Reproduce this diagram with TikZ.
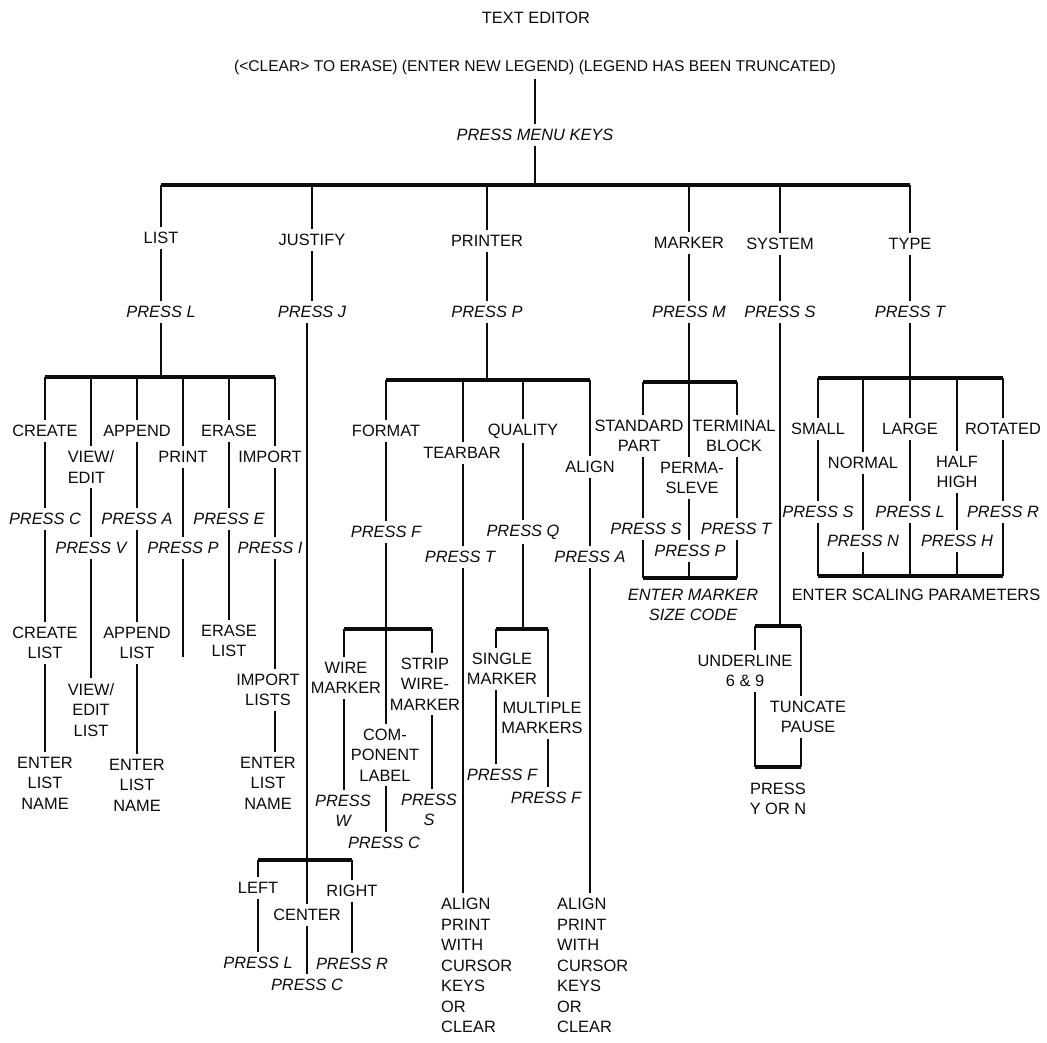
\documentclass[tikz,border=0pt]{standalone}
\usepackage{fontspec}
\setmainfont{Liberation Sans}
\usepackage{tikz}
\definecolor{ink}{RGB}{12,12,12}
\newcommand\dfont{\fontsize{16.4}{20.5}\selectfont}

\begin{document}
\begin{tikzpicture}[x=1pt,y=-1pt,font=\dfont,
 t/.style={text=ink,align=center,inner xsep=2pt,inner ysep=5pt},
 k/.style={t,font=\dfont\itshape},
 blk/.style={t,align=left,anchor=north west},
 ln/.style={draw=ink,line width=1.5pt},
 bar/.style={draw=ink,line width=3.2pt}]
 \path[use as bounding box,fill=white] (0,0) rectangle (1047,1042);
 \node[t](title) at (536,18){TEXT EDITOR};
 \node[t,font=\fontsize{15.6}{20}\selectfont](legend) at (535,67){(<CLEAR> TO ERASE) (ENTER NEW LEGEND) (LEGEND HAS BEEN TRUNCATED)};
 \node[k](menu) at (535,135){PRESS MENU KEYS};
 \coordinate(top) at (535,185);
 \draw[ln](legend)--(menu)--(top);
 \coordinate(bL) at (161,185);
 \coordinate(bJ) at (312,185);
 \coordinate(bP) at (487,185);
 \coordinate(bM) at (689,185);
 \coordinate(bS) at (780,185);
 \coordinate(bT) at (910,185);
 \draw[bar](bL)--(bT);
 \node[t](list) at (161,238){LIST};
 \node[k](pL) at (161,312){PRESS L};
 \node[t](just) at (312,240){JUSTIFY};
 \node[k](pJ) at (312,312){PRESS J};
 \node[t](prn) at (487,241){PRINTER};
 \node[k](pP) at (487,312){PRESS P};
 \node[t](mrk) at (689,243){MARKER};
 \node[k](pM) at (689,312){PRESS M};
 \node[t](sys) at (780,244){SYSTEM};
 \node[k](pS) at (780,312){PRESS S};
 \node[t](typ) at (910,244){TYPE};
 \node[k](pT) at (910,312){PRESS T};
 % list
 \coordinate(lc) at (161,377);
 \coordinate(l1) at (45,377);
 \coordinate(l2) at (91,377);
 \coordinate(l3) at (137,377);
 \coordinate(l4) at (183,377);
 \coordinate(l5) at (229,377);
 \coordinate(l6) at (275,377);
 \draw[ln](bL)--(list)--(pL)--(lc);
 \draw[bar](l1)--(l6);
 \node[t](create) at (45,431){CREATE};
 \node[k](pC) at (45,519){PRESS C};
 \node[t](createl) at (45,643){CREATE\\LIST};
 \node[t](name1) at (45,783){ENTER\\LIST\\NAME};
 \node[t,align=left](view) at (91,467){VIEW/\\EDIT};
 \node[k](pV) at (91,548){PRESS V};
 \node[t](viewl) at (91,710){VIEW/\\EDIT\\LIST};
 \node[t](append) at (137,431){APPEND};
 \node[k](pA) at (137,519){PRESS A};
 \node[t](appendl) at (137,643){APPEND\\LIST};
 \node[t](name2) at (137,785){ENTER\\LIST\\NAME};
 \node[t](print) at (183,457){PRINT};
 \node[k](pPr) at (183,548){PRESS P};
 \coordinate(printend) at (183,657);
 \node[t](erase) at (229,431){ERASE};
 \node[k](pE) at (229,519){PRESS E};
 \node[t](erasel) at (229,641){ERASE\\LIST};
 \node[t](import) at (270,457){IMPORT};
 \node[k](pI) at (270,548){PRESS I};
 \node[t](importl) at (268,690){IMPORT\\LISTS};
 \node[t](name3) at (268,783){ENTER\\LIST\\NAME};
 \draw[ln](l1)--(create)--(pC)--(createl)--(name1);
 \draw[ln](l2)--(view)--(pV)--(viewl);
 \draw[ln](l3)--(append)--(pA)--(appendl)--(name2);
 \draw[ln](l4)--(print)--(pPr)--(printend);
 \draw[ln](l5)--(erase)--(pE)--(erasel);
 \draw[ln](l6)--(import.north-|l6) (import.south-|l6)--(pI.north-|l6) (pI.south-|l6)--(importl.north-|l6) (importl.south-|l6)--(name3.north-|l6);
 % justify
 \coordinate(jc) at (307,860);
 \coordinate(j1) at (258,860);
 \coordinate(j3) at (352,860);
 \draw[ln](bJ)--(just)--(pJ) (pJ.south-|jc)--(jc);
 \draw[bar](j1)--(j3);
 \node[t](left) at (258,888){LEFT};
 \node[k](pLe) at (258,963){PRESS L};
 \node[t](center) at (307,915){CENTER};
 \node[k](pCe) at (307,985){PRESS C};
 \node[t](right) at (352,891){RIGHT};
 \node[k](pRi) at (352,964){PRESS R};
 \draw[ln](j1)--(left)--(pLe);
 \draw[ln](jc)--(center)--(pCe);
 \draw[ln](j3)--(right)--(pRi);
 % printer
 \coordinate(pc) at (487,380);
 \coordinate(p1) at (386,380);
 \coordinate(p2) at (463,380);
 \coordinate(p3) at (523,380);
 \coordinate(p4) at (590,380);
 \draw[ln](bP)--(prn)--(pP)--(pc);
 \draw[bar](p1)--(p4);
 \node[t](format) at (386,431){FORMAT};
 \node[k](pF) at (386,532){PRESS F};
 \coordinate(fc) at (386,629);
 \coordinate(f1) at (344,629);
 \coordinate(f3) at (432,629);
 \draw[ln](p1)--(format)--(pF)--(fc);
 \draw[bar](f1)--(f3);
 \node[t](wire) at (346,678){WIRE\\MARKER};
 \node[k](pW) at (343,811){PRESS\\W};
 \node[t](comp) at (385,755){COM-\\PONENT\\LABEL};
 \node[k](pCo) at (384,843){PRESS C};
 \node[t](strip) at (425,684){STRIP\\WIRE-\\MARKER};
 \node[k](pSt) at (429,810){PRESS\\S};
 \draw[ln](f1)--(wire.north-|f1) (wire.south-|f1)--(pW.north-|f1);
 \draw[ln](fc)--(comp.north-|fc) (comp.south-|fc)--(pCo.north-|fc);
 \draw[ln](f3)--(strip.north-|f3) (strip.south-|f3)--(pSt.north-|f3);
 \node[t](tear) at (462,453){TEARBAR};
 \node[k](pTe) at (460,557){PRESS T};
 \node[blk](align1) at (439,893){ALIGN\\PRINT\\WITH\\CURSOR\\KEYS\\OR\\CLEAR};
 \draw[ln](p2)--(tear.north-|p2) (tear.south-|p2)--(pTe.north-|p2) (pTe.south-|p2)--(align1.north-|p2);
 \node[t](qual) at (523,431){QUALITY};
 \node[k](pQ) at (523,532){PRESS Q};
 \coordinate(qc) at (523,629);
 \coordinate(q1) at (496,629);
 \coordinate(q2) at (548,629);
 \draw[ln](p3)--(qual)--(pQ)--(qc);
 \draw[bar](q1)--(q2);
 \node[t](single) at (502,669){SINGLE\\MARKER};
 \node[k](pSi) at (502,775){PRESS F};
 \node[t](multi) at (542,718){MULTIPLE\\MARKERS};
 \node[k](pMu) at (546,798){PRESS F};
 \draw[ln](q1)--(single.north-|q1) (single.south-|q1)--(pSi.north-|q1);
 \draw[ln](q2)--(multi.north-|q2) (multi.south-|q2)--(pMu.north-|q2);
 \node[t](align) at (590,467){ALIGN};
 \node[k](pAl) at (590,557){PRESS A};
 \node[blk](align2) at (555,893){ALIGN\\PRINT\\WITH\\CURSOR\\KEYS\\OR\\CLEAR};
 \draw[ln](p4)--(align)--(pAl)--(align2.north-|p4);
 % marker
 \coordinate(mc) at (689,382);
 \coordinate(m1) at (643,382);
 \coordinate(m3) at (737,382);
 \draw[ln](bM)--(mrk)--(pM)--(mc);
 \draw[bar](m1)--(m3);
 \node[t](std) at (639,436){STANDARD\\PART};
 \node[t](perma) at (692,478){PERMA-\\SLEVE};
 \node[t](term) at (734,436){TERMINAL\\BLOCK};
 \node[k](pSd) at (646,529){PRESS S};
 \node[k](pPe) at (690,551){PRESS P};
 \node[k](pTm) at (736,529){PRESS T};
 \coordinate(mb1) at (643,578);
 \coordinate(mb2) at (689,578);
 \coordinate(mb3) at (737,578);
 \draw[ln](m1)--(std.north-|m1) (std.south-|m1)--(pSd.north-|m1) (pSd.south-|m1)--(mb1);
 \draw[ln](mc)--(perma.north-|mc) (perma.south-|mc)--(pPe.north-|mc) (pPe.south-|mc)--(mb2);
 \draw[ln](m3)--(term.north-|m3) (term.south-|m3)--(pTm.north-|m3) (pTm.south-|m3)--(mb3);
 \draw[bar](mb1)--(mb3);
 \node[k](size) at (693,605){ENTER MARKER\\SIZE CODE};
 % system
 \coordinate(sc) at (780,626);
 \coordinate(s1) at (755,626);
 \coordinate(s2) at (801,626);
 \draw[ln](bS)--(sys)--(pS)--(sc);
 \draw[bar](s1)--(s2);
 \node[t](under) at (745,671){UNDERLINE\\6 \& 9};
 \node[t](trunc) at (808,717){TUNCATE\\PAUSE};
 \coordinate(sb1) at (755,767);
 \coordinate(sb2) at (801,767);
 \draw[ln](s1)--(under.north-|s1) (under.south-|s1)--(sb1);
 \draw[ln](s2)--(trunc.north-|s2) (trunc.south-|s2)--(sb2);
 \draw[bar](sb1)--(sb2);
 \node[t](yn) at (778,799){PRESS\\Y OR N};
 % type
 \coordinate(tc) at (910,378);
 \coordinate(t1) at (818,378);
 \coordinate(t2) at (863,378);
 \coordinate(t4) at (957,378);
 \coordinate(t5) at (1003,378);
 \draw[ln](bT)--(typ)--(pT)--(tc);
 \draw[bar](t1)--(t5);
 \node[t](small) at (818,429){SMALL};
 \node[k](pSm) at (818,512){PRESS S};
 \node[t](normal) at (863,463){NORMAL};
 \node[k](pNo) at (863,541){PRESS N};
 \node[t](large) at (910,429){LARGE};
 \node[k](pLa) at (910,512){PRESS L};
 \node[t](half) at (957,472){HALF\\HIGH};
 \node[k](pHa) at (957,541){PRESS H};
 \node[t](rot) at (1003,429){ROTATED};
 \node[k](pRo) at (1003,512){PRESS R};
 \coordinate(tb1) at (818,576);
 \coordinate(tb2) at (863,576);
 \coordinate(tb3) at (910,576);
 \coordinate(tb4) at (957,576);
 \coordinate(tb5) at (1003,576);
 \draw[ln](t1)--(small)--(pSm)--(tb1);
 \draw[ln](t2)--(normal)--(pNo)--(tb2);
 \draw[ln](tc)--(large)--(pLa)--(tb3);
 \draw[ln](t4)--(half)--(pHa)--(tb4);
 \draw[ln](t5)--(rot)--(pRo)--(tb5);
 \draw[bar](tb1)--(tb5);
 \node[t](scale) at (916,595){ENTER SCALING PARAMETERS};
\end{tikzpicture}
\end{document}
